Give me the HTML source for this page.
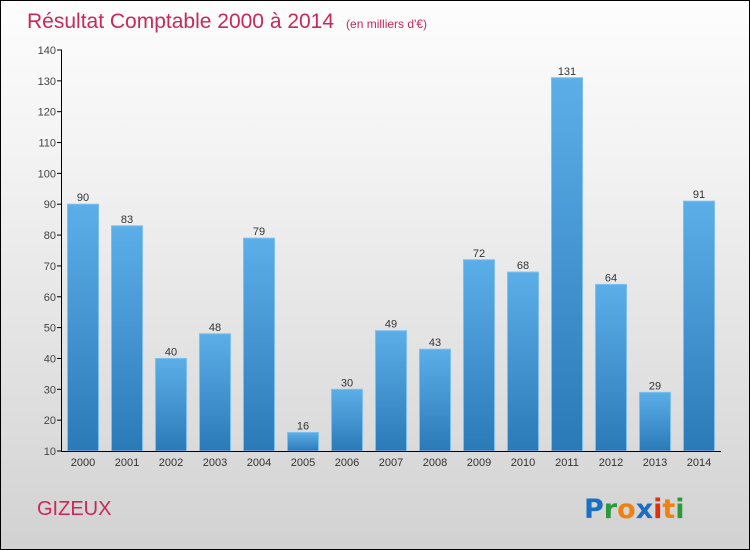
<!DOCTYPE html>
<html><head><meta charset="utf-8"><style>
body{margin:0;}
#wrap{position:relative;width:748px;height:548px;border:1px solid #000;background:linear-gradient(#fdfdfd,#f2f2f2 30%,#d2d2d2);font-family:"Liberation Sans",sans-serif;overflow:hidden}
</style></head><body>
<div id="wrap">
<svg id="svg" width="748" height="548" style="position:absolute;left:0;top:0">
<defs><linearGradient id="bg" x1="0" y1="0" x2="0" y2="1"><stop offset="0" stop-color="#5caee8"/><stop offset="1" stop-color="#2a7ab8"/></linearGradient></defs>
<text x="26" y="27" font-size="21" fill="#c8285a">Résultat Comptable 2000 à 2014<tspan font-size="12" dx="12">(en milliers d'€)</tspan></text>
<text x="36" y="514" font-size="20" fill="#c8285a">GIZEUX</text>
<g font-size="27" font-weight="bold" font-family="'DejaVu Sans',sans-serif">
<text x="583" y="517"><tspan fill="#1a6fc4">P</tspan><tspan fill="#2a9a3a">r</tspan><tspan fill="#f08010">o</tspan><tspan fill="#1a6fc4">x</tspan><tspan fill="#e03010">i</tspan><tspan fill="#f08010">t</tspan><tspan fill="#2a9a3a">i</tspan></text></g>
<g id="plot"></g>
</svg>
</div>
<script>
const years=["2000","2001","2002","2003","2004","2005","2006","2007","2008","2009","2010","2011","2012","2013","2014"];
const values=[90,83,40,48,79,16,30,49,43,72,68,131,64,29,91];
const yTicks=[10,20,30,40,50,60,70,80,90,100,110,120,130,140];
const ns="http://www.w3.org/2000/svg";
const g=document.getElementById('plot');
function y(v){return 450-(v-10)*(401/130);}
function x(i){return 82+i*44;}
function el(t,a){const e=document.createElementNS(ns,t);for(const k in a)e.setAttribute(k,a[k]);g.appendChild(e);return e;}
yTicks.forEach(t=>{
 const l=el('line',{x1:56,x2:61,y1:y(t),y2:y(t),stroke:'#000'});
 
 
 const tx=el('text',{x:55,y:y(t)+4,'text-anchor':'end','font-size':11,fill:'#444'});
 tx.textContent=t;
 
 
});
values.forEach((v,i)=>{
 const r=el('rect',{x:x(i)-15.5,y:y(v),width:31,height:450-y(v),fill:'url(#bg)',stroke:'#7cc0f0','stroke-width':1});
 
 
 const vt=el('text',{x:x(i),y:y(v)-3,'text-anchor':'middle','font-size':11,fill:'#333'});
 vt.textContent=v;
 
 
 const xt=el('text',{x:x(i),y:465,'text-anchor':'middle','font-size':11,fill:'#333'});
 xt.textContent=years[i];
 
 
});
const ya=el('line',{x1:60.5,x2:60.5,y1:y(140),y2:450,stroke:'#000'});


const xa=el('line',{x1:60,x2:720,y1:450.5,y2:450.5,stroke:'#000'});


</script>
</body></html>
